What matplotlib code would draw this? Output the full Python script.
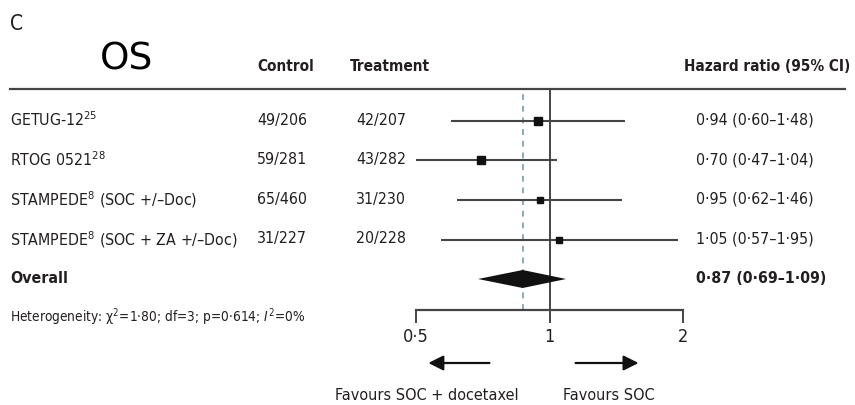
import matplotlib
matplotlib.use("Agg")
import matplotlib.pyplot as plt
import matplotlib.transforms as mtransforms
from matplotlib import font_manager as fm
from matplotlib.lines import Line2D
import numpy as np

# ---- data ----
studies = [
    "GETUG-12$^{25}$",
    "RTOG 0521$^{28}$",
    "STAMPEDE$^{8}$ (SOC +/–Doc)",
    "STAMPEDE$^{8}$ (SOC + ZA +/–Doc)",
]
control = ["49/206", "59/281", "65/460", "31/227"]
treatment = ["42/207", "43/282", "31/230", "20/228"]
hr = [0.94, 0.70, 0.95, 1.05]
ci_low = [0.60, 0.47, 0.62, 0.57]
ci_high = [1.48, 1.04, 1.46, 1.95]
overall_hr = 0.87
overall_low = 0.69
overall_high = 1.09
x_ticks = [0.5, 1, 2]
x_tick_labels = ["0·5", "1", "2"]
heterogeneity = "Heterogeneity: χ$^{2}$=1·80; df=3; p=0·614; $\\mathit{I}^{2}$=0%"

# prefer a narrow face for the table text
cands = [f for f in fm.fontManager.ttflist
         if f.stretch in ("condensed", "semi-condensed", "extra-condensed")
         or "Narrow" in f.name or "Condensed" in f.name]
cands.sort(key=lambda f: (f.name != "DejaVu Sans", f.name))
if cands:
    FONT_NAME = cands[0].name
    STRETCH = cands[0].stretch if isinstance(cands[0].stretch, str) else "condensed"
    SCALE = 1.0
else:
    FONT_NAME = "Lato"
    STRETCH = "normal"
    SCALE = 0.95
plt.rcParams["font.family"] = [FONT_NAME, "DejaVu Sans"]
plt.rcParams["font.stretch"] = STRETCH
plt.rcParams["mathtext.fontset"] = "custom"
plt.rcParams["mathtext.rm"] = f"{FONT_NAME}:stretch={STRETCH}"
plt.rcParams["mathtext.it"] = f"{FONT_NAME}:italic:stretch={STRETCH}"
plt.rcParams["mathtext.bf"] = f"{FONT_NAME}:bold:stretch={STRETCH}"

TXT = "#231f20"
LINE = "#454545"

W, H = 855, 405
fig = plt.figure(figsize=(W / 100, H / 100), dpi=100)


def fx(px):
    return px / W


def fy(py):
    return 1 - py / H


# forest panel: x axis 0.5 -> 2 on a log scale
left_px, right_px = 416, 683
top_px, bottom_px = 89, 310
ax = fig.add_axes([fx(left_px), fy(bottom_px), fx(right_px - left_px),
                   (bottom_px - top_px) / H])
ax.set_xscale("log", base=2)
ax.set_xlim(0.5, 2)
row_h = 39.5
y_top = -(121 - top_px) / row_h
y_bot = (bottom_px - 121) / row_h
ax.set_ylim(y_bot, y_top)
ax.patch.set_visible(False)
for s in ("top", "left", "right"):
    ax.spines[s].set_visible(False)
ax.spines["bottom"].set_color(LINE)
ax.spines["bottom"].set_linewidth(1.6)
ax.set_yticks([])
ax.set_xticks(x_ticks)
ax.set_xticklabels(x_tick_labels)
ax.xaxis.set_minor_locator(matplotlib.ticker.NullLocator())
ax.tick_params(axis="x", direction="out", length=9, width=1.4, color=LINE,
               labelsize=13 * SCALE, labelcolor=TXT, pad=4)

# reference lines
ax.axvline(1, color=LINE, lw=1.4, zorder=1)
ax.axvline(overall_hr, color="#7d9aa8", lw=1.2, ls=(0, (3.5, 3.5)), zorder=1)

rows = np.arange(len(studies))
marker_px = [7.5, 8.5, 6.5, 5.5]
for i in rows:
    ax.plot([ci_low[i], ci_high[i]], [i, i], color=LINE, lw=1.5, zorder=2,
            solid_capstyle="butt")
    ax.plot(hr[i], i, marker="s", ms=marker_px[i] * 0.72, color="#111111",
            zorder=3)

# pooled estimate diamond
oy = len(studies)
dh = 9 / row_h
ax.fill([overall_low, overall_hr, overall_high, overall_hr],
        [oy, oy - dh, oy, oy + dh], color="#111111", zorder=3, lw=0)

# text columns: x in figure pixels, y in row units
tr = mtransforms.blended_transform_factory(fig.transFigure, ax.transData)
FS = 11.4 * SCALE
for i in rows:
    y = i - 0.06
    fig.text(fx(10), y, studies[i], transform=tr, fontsize=FS, color=TXT,
             va="center_baseline")
    fig.text(fx(257), y, control[i], transform=tr, fontsize=FS, color=TXT,
             va="center_baseline")
    fig.text(fx(356), y, treatment[i], transform=tr, fontsize=FS, color=TXT,
             va="center_baseline")
    fig.text(fx(696), y,
             f"{hr[i]:.2f} ({ci_low[i]:.2f}–{ci_high[i]:.2f})".replace(".", "·"),
             transform=tr, fontsize=FS, color=TXT, va="center_baseline")

fig.text(fx(10), oy - 0.04, "Overall", transform=tr, fontsize=FS, color=TXT,
         fontweight="bold", va="center_baseline")
fig.text(fx(696), oy - 0.04,
         f"{overall_hr:.2f} ({overall_low:.2f}–{overall_high:.2f})".replace(".", "·"),
         transform=tr, fontsize=FS, color=TXT, fontweight="bold",
         va="center_baseline")

fig.text(fx(10), fy(322), heterogeneity, fontsize=9.8 * SCALE, color=TXT,
         va="baseline")

# headers
fig.text(fx(10), fy(30), "C", fontsize=15, color=TXT, va="baseline")
fig.text(fx(100), fy(69), "OS", fontsize=27, color="black", va="baseline",
         family="DejaVu Sans", stretch="normal")
HFS = 11 * SCALE
fig.text(fx(257), fy(71), "Control", fontsize=HFS, color=TXT,
         fontweight="bold", va="baseline")
fig.text(fx(350), fy(71), "Treatment", fontsize=HFS, color=TXT,
         fontweight="bold", va="baseline")
fig.text(fx(850), fy(71), "Hazard ratio (95% CI)", fontsize=HFS, color=TXT,
         fontweight="bold", va="baseline", ha="right")
fig.add_artist(Line2D([fx(10), fx(845)], [fy(89), fy(89)], color=LINE, lw=1.6))

# direction arrows and captions
tra = mtransforms.blended_transform_factory(ax.transData, fig.transFigure)
arrow_kw = dict(arrowstyle="-|>,head_length=0.9,head_width=0.45", color="#111111",
                lw=1.6, shrinkA=0, shrinkB=0)
ax.annotate("", xy=(0.533, fy(363)), xytext=(0.732, fy(363)), xycoords=tra,
            textcoords=tra, arrowprops=arrow_kw, annotation_clip=False)
ax.annotate("", xy=(1.588, fy(363)), xytext=(1.145, fy(363)), xycoords=tra,
            textcoords=tra, arrowprops=arrow_kw, annotation_clip=False)
fig.text(fx(335), fy(400), "Favours SOC + docetaxel", fontsize=11.6 * SCALE,
         color=TXT, va="baseline")
fig.text(fx(563), fy(400), "Favours SOC", fontsize=11.6 * SCALE, color=TXT,
         va="baseline")

fig.savefig("out.png", dpi=100, facecolor="white")
